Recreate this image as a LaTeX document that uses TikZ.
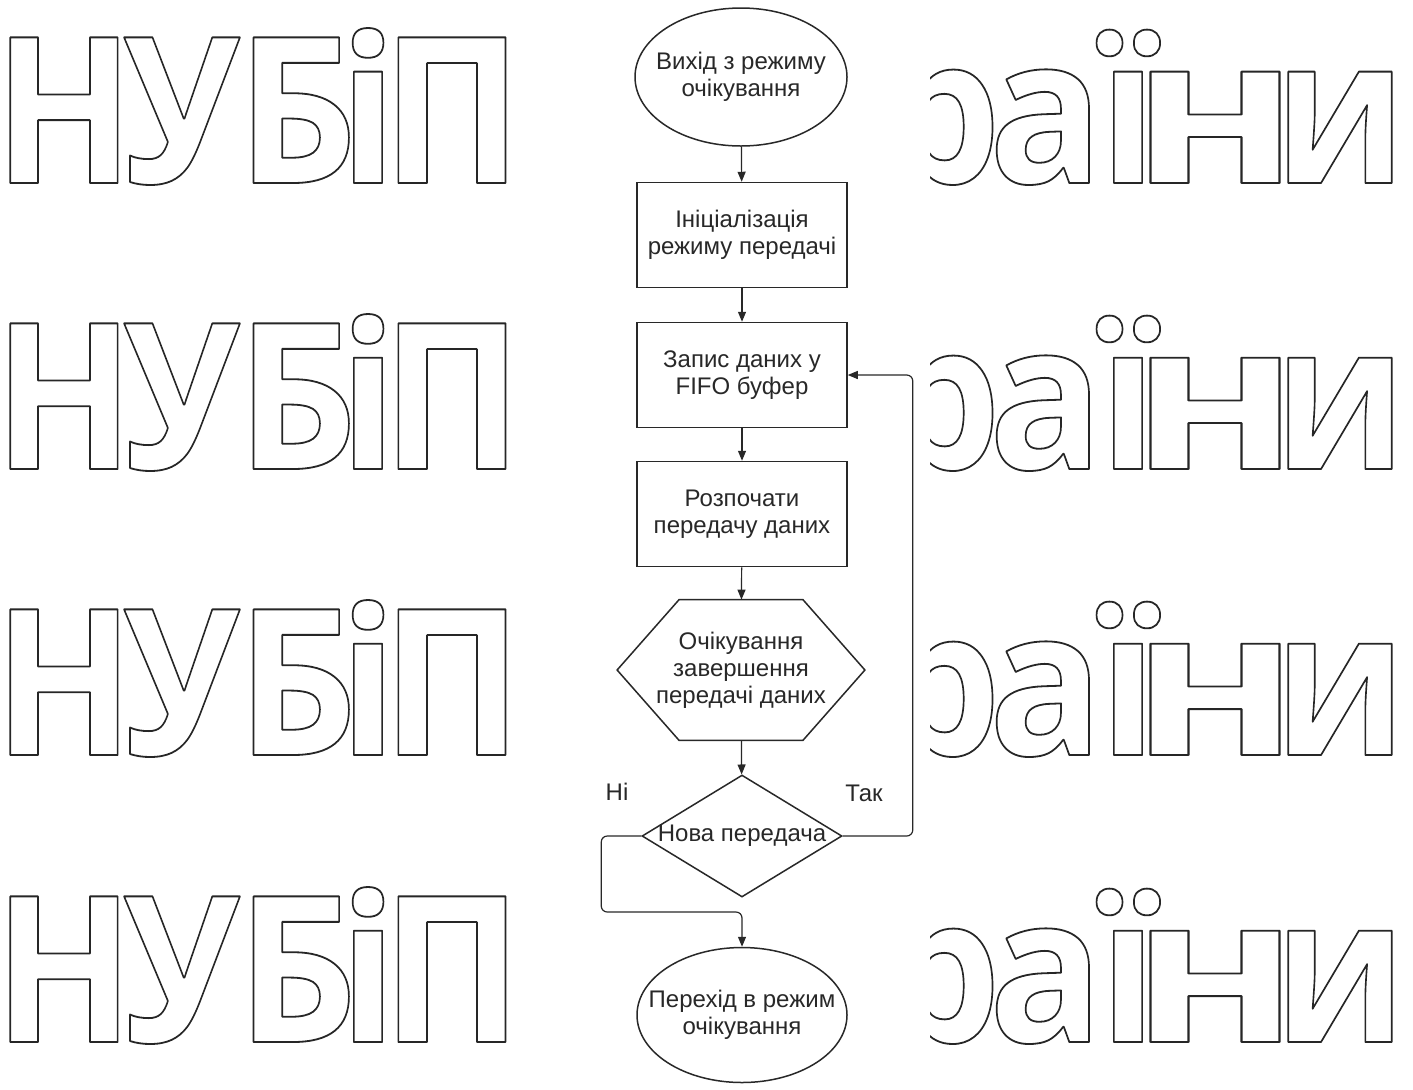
\documentclass[tikz,border=0pt]{standalone}
\usepackage{fontspec}
\usetikzlibrary{shapes.geometric,arrows.meta}
\setmainfont{Liberation Sans}
\newfontfamily\markfont{Open Sans}
\definecolor{linegray}{RGB}{40,40,40}
\definecolor{textgray}{RGB}{40,40,40}
% outlined letters of the watermark
\newcommand{\outl}[1]{\special{pdf:literal direct 1 Tr 0.9 w 1 j}#1\special{pdf:literal direct 0 Tr}}

\begin{document}
\begin{tikzpicture}[x=0.5pt,y=-0.5pt,
    font=\fontsize{12}{13.5}\selectfont, text=textgray,
    every label/.style={align=center},
    box/.style={draw=linegray, line width=0.75pt, minimum width=105pt, minimum height=52.5pt, align=center},
    oval/.style={ellipse, draw=linegray, line width=0.75pt, minimum width=106pt, minimum height=69pt, inner sep=0pt},
    arr/.style={draw=linegray, line width=0.6pt, -{Triangle[length=5pt,width=4pt]}},
    wmtext/.style={font=\markfont\bfseries\fontsize{102}{110}\selectfont, inner sep=0pt, text=black!85, anchor=base}]
    \useasboundingbox (0,0) rectangle (1413,1089);
    \fill[white] (0,0) rectangle (1413,1089);
    % watermark rows
    \begin{scope}
        \clip (0,0) rectangle (585,1089) (930,0) rectangle (1413,1089);
        \foreach \y in {183,469,755,1042} {
            \foreach \ch/\cx/\sx in {Н/64/0.9,У/182/0.87,Б/297/0.93,і/368/0.93,П/452/0.93,
                                   р/941/0.93,а/1046/0.93,ї/1128/0.93,н/1215/1.25,и/1340/0.9}
                \node[wmtext] at (\cx,\y) {\outl{\scalebox{\sx}[1]{\ch}}};
        }
    \end{scope}
    % flowchart
    \node[oval, label=center:{Вихід з режиму\\очікування}] (start) at (741,77) {};
    \node[box] (init) at (742,235) {Ініціалізація\\режиму передачі};
    \node[box] (buf) at (742,375) {Запис даних у\\FIFO буфер};
    \node[box] (send) at (742,514) {Розпочати\\передачу даних};
    \node[minimum width=123.5pt, minimum height=70pt, align=center] (wait) at (741,670) {Очікування\\завершення\\передачі даних};
    \draw[linegray, line width=0.75pt] ([xshift=31pt]wait.north west) -- ([xshift=-31pt]wait.north east) -- (wait.east)
        -- ([xshift=-31pt]wait.south east) -- ([xshift=31pt]wait.south west) -- (wait.west) -- cycle;
    \node[diamond, draw=linegray, line width=0.75pt, minimum width=100pt, minimum height=61pt, inner sep=0pt,
        label=center:{Нова передача}] (new) at (742,836) {};
    \node[oval, minimum width=105pt, minimum height=67.5pt, label=center:{Перехід в режим\\очікування}] (stop) at (742,1015) {};
    \node (no) at (617,792) {Ні};
    \node (yes) at (864,793) {Так};
    % connectors
    \draw[arr] (start) -- (init);
    \draw[arr] (init) -- (buf);
    \draw[arr] (buf) -- (send);
    \draw[arr] (send) -- (wait);
    \draw[arr] (wait) -- (new);
    \draw[arr, rounded corners=3pt] (new.east) -- ++(70,0) |- (buf.east);
    \draw[arr, rounded corners=3pt] (new.west) -- ++(-40,0) -- ++(0,76) -| (stop.north);
\end{tikzpicture}
\end{document}
